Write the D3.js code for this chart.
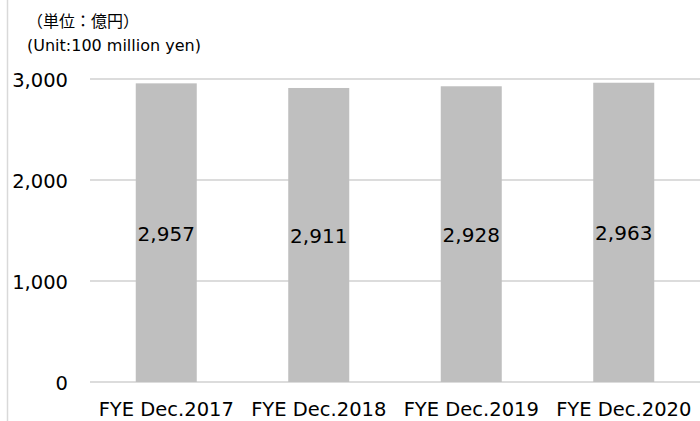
<!DOCTYPE html>
<html>
<head>
<meta charset="utf-8">
<script src="https://cdn.jsdelivr.net/npm/d3@7"></script>
<style>
  html, body { margin: 0; padding: 0; background: #fff; }
  svg { display: block; }
</style>
</head>
<body>
<svg id="chart" width="700" height="421"></svg>
<script>
const categories = ["FYE Dec.2017", "FYE Dec.2018", "FYE Dec.2019", "FYE Dec.2020"];
const values = [2957, 2911, 2928, 2963];
const yTicks = [0, 1000, 2000, 3000];
const unitLabels = ["（単位：億円）", "(Unit:100 million yen)"];

const W = 700, H = 421;
const margin = { left: 90, right: 0, top: 79, bottom: 39 };
const svg = d3.select("#chart");
const font = "'DejaVu Sans', Verdana, sans-serif";

// frame line on left
svg.append("line")
  .attr("x1", 7.5).attr("x2", 7.5).attr("y1", 0).attr("y2", H)
  .attr("stroke", "#d9d9d9").attr("stroke-width", 1.5);

const x = d3.scaleBand()
  .domain(categories)
  .range([margin.left, W - margin.right])
  .paddingInner(0.6).paddingOuter(0.3);

const y = d3.scaleLinear()
  .domain([0, 3000])
  .range([H - margin.bottom, margin.top]);

// gridlines
svg.append("g")
  .selectAll("line")
  .data(yTicks)
  .join("line")
  .attr("x1", margin.left).attr("x2", W - margin.right)
  .attr("y1", d => y(d)).attr("y2", d => y(d))
  .attr("stroke", "#d0d0d0").attr("stroke-width", 1.5);

// y tick labels
const yAxis = d3.axisLeft(y).tickValues(yTicks).tickSize(0).tickPadding(0)
  .tickFormat(d3.format(","));
const gy = svg.append("g").attr("transform", "translate(68,0)").call(yAxis);
gy.select(".domain").remove();
gy.selectAll("text")
  .attr("font-family", font).attr("font-size", 19.5).attr("fill", "#000")
  .attr("dy", "0.36em");

// bars
svg.append("g")
  .selectAll("rect")
  .data(values)
  .join("rect")
  .attr("x", (d, i) => x(categories[i]))
  .attr("width", x.bandwidth())
  .attr("y", d => y(d))
  .attr("height", d => y(0) - y(d))
  .attr("fill", "#bfbfbf");

// data labels
svg.append("g")
  .selectAll("text")
  .data(values)
  .join("text")
  .attr("x", (d, i) => x(categories[i]) + x.bandwidth() / 2)
  .attr("y", d => (y(d) + y(0)) / 2)
  .attr("dy", "0.4em")
  .attr("text-anchor", "middle")
  .attr("font-family", font).attr("font-size", 20).attr("fill", "#000")
  .text(d => d3.format(",")(d));

// x axis labels
const xAxis = d3.axisBottom(x).tickSize(0).tickPadding(0);
const gx = svg.append("g").attr("transform", `translate(0,${H - margin.bottom})`).call(xAxis);
gx.select(".domain").remove();
gx.selectAll("text")
  .attr("font-family", font).attr("font-size", 19.5).attr("fill", "#000")
  .attr("dy", null).attr("y", 34);

// unit labels
svg.append("text")
  .attr("x", 27).attr("y", 27)
  .attr("font-family", "'Noto Sans CJK JP', sans-serif").attr("font-size", 16).attr("fill", "#000")
  .text(unitLabels[0]);
svg.append("text")
  .attr("x", 27).attr("y", 51)
  .attr("font-family", font).attr("font-size", 16).attr("fill", "#000")
  .text(unitLabels[1]);
</script>
</body>
</html>
